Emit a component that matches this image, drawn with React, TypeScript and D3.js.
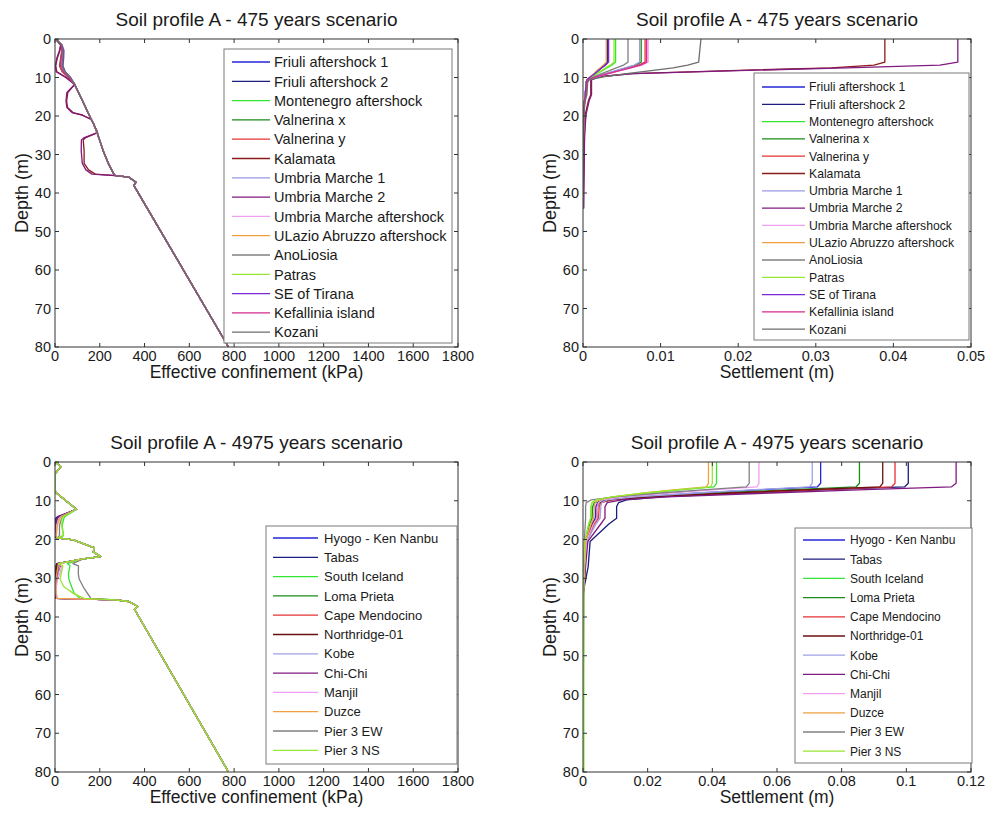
import React from "react";
import * as d3 from "d3";

// ---------- ticks ----------
const DEPTH_TICKS = [0, 10, 20, 30, 40, 50, 60, 70, 80];
const CONF_TICKS = [0, 200, 400, 600, 800, 1000, 1200, 1400, 1600, 1800];
const SETTLE_TICKS_475 = [0, 0.01, 0.02, 0.03, 0.04, 0.05];
const SETTLE_TICKS_4975 = [0, 0.02, 0.04, 0.06, 0.08, 0.1, 0.12];

// ---------- series names / colours ----------
const NAMES_475 = [
  "Friuli aftershock 1", "Friuli aftershock 2", "Montenegro aftershock", "Valnerina x",
  "Valnerina y", "Kalamata", "Umbria Marche 1", "Umbria Marche 2", "Umbria Marche aftershock",
  "ULazio Abruzzo aftershock", "AnoLiosia", "Patras", "SE of Tirana", "Kefallinia island", "Kozani",
];
const COLORS_475 = [
  "#2626d9", "#1c1c80", "#33e633", "#1a8c1a", "#e63333", "#8c1a1a", "#9a9ae6", "#801a80",
  "#f0a0f0", "#f0a040", "#808080", "#99e633", "#7a2ad6", "#d62a8c", "#6e6e6e",
];
const NAMES_4975 = [
  "Hyogo - Ken Nanbu", "Tabas", "South Iceland", "Loma Prieta", "Cape Mendocino", "Northridge-01",
  "Kobe", "Chi-Chi", "Manjil", "Duzce", "Pier 3 EW", "Pier 3 NS",
];
const COLORS_4975 = [
  "#2626d9", "#1c1c80", "#33e633", "#1a8c1a", "#e63333", "#6b1010",
  "#a0a0e6", "#801a80", "#f0a0f0", "#f0a040", "#808080", "#99e633",
];

// ---------- 475 years: effective confinement (kPa) vs depth (m) ----------
const DEPTH_CONF_475 = [0, 1.5, 3, 5, 7, 8.5, 10, 11.8, 13.9, 16.1, 17.8, 19.1, 19.8, 20.9, 22, 24.3, 25.7, 26.2, 29, 32.3, 34, 35.1, 35.5, 35.9, 37.2, 38, 80];
const CONF_475 = [
  [3, 28, 36, 34, 30, 40, 66, 88, 105, 123, 137, 147, 153, 162, 172, 188, 196, 199, 215, 238, 253, 263, 270, 330, 362, 352, 775],
  [3, 27, 34, 32, 28, 38, 64, 88, 105, 123, 137, 147, 153, 162, 172, 188, 196, 199, 215, 238, 253, 263, 270, 330, 362, 352, 775],
  [3, 30, 37, 36, 33, 44, 68, 88, 105, 123, 137, 147, 153, 162, 172, 188, 196, 199, 215, 238, 253, 263, 270, 330, 362, 352, 775],
  [3, 26, 30, 25, 20, 32, 62, 88, 105, 123, 137, 147, 153, 162, 172, 188, 196, 199, 215, 238, 253, 263, 270, 330, 362, 352, 775],
  [3, 27, 31, 27, 22, 33, 62, 88, 105, 123, 137, 147, 153, 162, 172, 188, 196, 199, 215, 238, 253, 263, 270, 330, 362, 352, 775],
  [3, 26, 22, 10, 3, 8, 52, 88, 57, 52, 56, 80, 125, 162, 172, 190, 135, 126, 130, 130, 150, 180, 270, 330, 362, 352, 775],
  [3, 32, 40, 39, 36, 46, 70, 88, 105, 123, 137, 147, 153, 162, 172, 188, 196, 199, 215, 238, 253, 263, 270, 330, 362, 352, 775],
  [3, 25, 20, 8, 2, 5, 48, 88, 53, 49, 53, 76, 121, 162, 172, 190, 128, 118, 117, 122, 138, 165, 270, 330, 362, 352, 775],
  [3, 30, 34, 31, 26, 36, 64, 88, 105, 123, 137, 147, 153, 162, 172, 188, 196, 199, 215, 238, 253, 263, 270, 330, 362, 352, 775],
  [3, 29, 36, 35, 32, 42, 67, 88, 105, 123, 137, 147, 153, 162, 172, 188, 196, 199, 215, 238, 253, 263, 270, 330, 362, 352, 775],
  [3, 29, 35, 33, 30, 40, 66, 88, 105, 123, 137, 147, 153, 162, 172, 188, 196, 199, 215, 238, 253, 263, 270, 330, 362, 352, 775],
  [3, 31, 38, 37, 34, 45, 69, 88, 105, 123, 137, 147, 153, 162, 172, 188, 196, 199, 215, 238, 253, 263, 270, 330, 362, 352, 775],
  [3, 30, 39, 38, 35, 45, 69, 88, 105, 123, 137, 147, 153, 162, 172, 188, 196, 199, 215, 238, 253, 263, 270, 330, 362, 352, 775],
  [3, 27, 32, 28, 24, 35, 63, 88, 105, 123, 137, 147, 153, 162, 172, 188, 196, 199, 215, 238, 253, 263, 270, 330, 362, 352, 775],
  [3, 30, 36, 35, 33, 43, 68, 88, 105, 123, 137, 147, 153, 162, 172, 188, 196, 199, 215, 238, 253, 263, 270, 330, 362, 352, 775],
];

// ---------- 475 years: settlement (m) vs depth (m) ----------
const DEPTH_SETTLE_475 = [0, 6, 6.8, 7.5, 8.2, 9, 9.8, 10.6, 11.3, 14.5, 16, 19.5, 25, 44];
const SETTLE_475 = [
  [0.0032, 0.0032, 0.0028, 0.0024, 0.0020, 0.0015, 0.0010, 0.0005, 0.0004, 0.0003, 0.0002, 0.0001, 0.00005, 0],
  [0.0031, 0.0031, 0.0027, 0.0023, 0.0019, 0.0015, 0.0010, 0.0005, 0.0004, 0.0003, 0.0002, 0.0001, 0.00005, 0],
  [0.0042, 0.0042, 0.0037, 0.0031, 0.0025, 0.0018, 0.0012, 0.0005, 0.0004, 0.0003, 0.0002, 0.0001, 0.00005, 0],
  [0.0075, 0.0075, 0.0068, 0.0056, 0.0044, 0.0030, 0.0017, 0.0006, 0.0004, 0.0003, 0.0002, 0.0001, 0.00005, 0],
  [0.0080, 0.0080, 0.0072, 0.0059, 0.0046, 0.0032, 0.0018, 0.0006, 0.0005, 0.0004, 0.0002, 0.0001, 0.00005, 0],
  [0.0389, 0.0389, 0.0375, 0.0320, 0.0190, 0.0063, 0.0019, 0.0010, 0.0010, 0.0010, 0.0007, 0.0003, 0.0002, 0],
  [0.0073, 0.0073, 0.0066, 0.0054, 0.0042, 0.0029, 0.0016, 0.0005, 0.0004, 0.0003, 0.0002, 0.0001, 0.00005, 0],
  [0.0483, 0.0483, 0.0460, 0.0340, 0.0200, 0.0065, 0.0020, 0.0011, 0.0011, 0.0011, 0.0008, 0.0004, 0.0002, 0.0001],
  [0.0084, 0.0084, 0.0076, 0.0062, 0.0048, 0.0033, 0.0019, 0.0006, 0.0005, 0.0004, 0.0002, 0.0001, 0.00005, 0],
  [0.0030, 0.0030, 0.0026, 0.0022, 0.0018, 0.0014, 0.0009, 0.0005, 0.0004, 0.0003, 0.0002, 0.0001, 0.00005, 0],
  [0.0058, 0.0058, 0.0052, 0.0043, 0.0034, 0.0024, 0.0014, 0.0005, 0.0004, 0.0003, 0.0002, 0.0001, 0.00005, 0],
  [0.0040, 0.0040, 0.0035, 0.0029, 0.0024, 0.0017, 0.0011, 0.0005, 0.0004, 0.0003, 0.0002, 0.0001, 0.00005, 0],
  [0.0033, 0.0033, 0.0029, 0.0024, 0.0020, 0.0015, 0.0010, 0.0005, 0.0004, 0.0003, 0.0002, 0.0001, 0.00005, 0],
  [0.0082, 0.0082, 0.0074, 0.0061, 0.0047, 0.0032, 0.0018, 0.0006, 0.0005, 0.0004, 0.0002, 0.0001, 0.00005, 0],
  [0.0152, 0.0149, 0.0135, 0.0116, 0.0088, 0.0056, 0.0028, 0.0008, 0.0006, 0.0005, 0.0003, 0.0001, 0.00005, 0],
];

// ---------- 4975 years: effective confinement (kPa) vs depth (m) ----------
const DEPTH_CONF_4975 = [0, 0.3, 1.2, 2.9, 4.2, 7.8, 12.2, 14.1, 14.5, 16.4, 19, 19.6, 20.1, 21.9, 22.1, 23.2, 24.4, 25, 26.2, 26.8, 28.8, 30.2, 32.2, 33.9, 35.2, 35.6, 36, 37.3, 38, 80];
const CONF_4975 = [
  [1, 8, 26, 2, 0, 2, 96, 20, 12, 3, 2, 7, 82, 164, 176, 171, 204, 126, 12, 8, 4, 2, 2, 3, 6, 270, 330, 370, 355, 775],
  [1, 8, 26, 2, 0, 2, 96, 12, 3, 1, 1, 6, 82, 164, 176, 171, 204, 126, 8, 4, 2, 1, 1, 2, 5, 270, 330, 370, 355, 775],
  [1, 8, 26, 2, 0, 2, 96, 44, 40, 32, 38, 12, 82, 164, 176, 171, 204, 126, 55, 67, 60, 62, 74, 86, 112, 270, 330, 370, 355, 775],
  [1, 8, 26, 2, 0, 2, 96, 22, 14, 4, 3, 8, 82, 164, 176, 171, 204, 126, 14, 10, 5, 3, 3, 4, 8, 270, 330, 370, 355, 775],
  [1, 8, 26, 2, 0, 2, 96, 25, 18, 6, 4, 8, 82, 164, 176, 171, 204, 126, 18, 25, 12, 6, 4, 4, 7, 270, 330, 370, 355, 775],
  [1, 8, 26, 2, 0, 2, 96, 18, 10, 2, 1, 6, 82, 164, 176, 171, 204, 126, 10, 6, 3, 2, 1, 2, 5, 270, 330, 370, 355, 775],
  [1, 8, 26, 2, 0, 2, 96, 24, 16, 5, 4, 8, 82, 164, 176, 171, 204, 126, 15, 20, 14, 8, 5, 5, 9, 270, 330, 370, 355, 775],
  [1, 8, 26, 2, 0, 2, 96, 16, 8, 2, 1, 6, 82, 164, 176, 171, 204, 126, 12, 16, 10, 5, 3, 3, 6, 270, 330, 370, 355, 775],
  [1, 8, 26, 2, 0, 2, 96, 26, 20, 8, 5, 9, 82, 164, 176, 171, 204, 126, 20, 30, 22, 12, 6, 6, 10, 270, 330, 370, 355, 775],
  [1, 8, 26, 2, 0, 2, 96, 28, 22, 10, 6, 9, 82, 164, 176, 171, 204, 126, 16, 14, 8, 4, 3, 4, 8, 270, 330, 370, 355, 775],
  [1, 8, 26, 2, 0, 2, 96, 35, 30, 20, 20, 10, 82, 164, 176, 171, 204, 126, 80, 105, 104, 108, 126, 145, 160, 270, 330, 370, 355, 775],
  [1, 8, 26, 2, 0, 2, 96, 37, 32, 30, 37, 10, 82, 164, 176, 171, 204, 126, 15, 35, 28, 22, 40, 82, 130, 270, 330, 370, 355, 775],
];

// ---------- 4975 years: settlement (m) vs depth (m) ----------
const DEPTH_SETTLE_4975 = [0, 5.5, 6.4, 7.2, 8, 9, 9.8, 10.5, 11.5, 14.5, 16, 20.5, 27, 34, 80];
const SETTLE_4975 = [
  [0.0735, 0.0735, 0.0725, 0.054, 0.036, 0.017, 0.0070, 0.0045, 0.0040, 0.0038, 0.0028, 0.0010, 0.0005, 0.0001, 0],
  [0.1006, 0.1006, 0.0995, 0.074, 0.050, 0.024, 0.0135, 0.0110, 0.0104, 0.0104, 0.0080, 0.0022, 0.0016, 0, 0],
  [0.0413, 0.0413, 0.0405, 0.030, 0.020, 0.0095, 0.0040, 0.0028, 0.0025, 0.0024, 0.0018, 0.0006, 0.0003, 0.0002, 0.0002],
  [0.0855, 0.0855, 0.0845, 0.063, 0.042, 0.019, 0.0070, 0.0035, 0.0030, 0.0028, 0.0020, 0.0008, 0.0004, 0.0001, 0],
  [0.0965, 0.0965, 0.0955, 0.071, 0.048, 0.022, 0.0090, 0.0055, 0.0050, 0.0048, 0.0035, 0.0012, 0.0006, 0.0001, 0],
  [0.0927, 0.0927, 0.0918, 0.068, 0.046, 0.021, 0.0085, 0.0050, 0.0045, 0.0043, 0.0030, 0.0010, 0.0005, 0.0001, 0],
  [0.0709, 0.0709, 0.0700, 0.052, 0.035, 0.016, 0.0075, 0.0058, 0.0055, 0.0053, 0.0040, 0.0012, 0.0006, 0.0001, 0],
  [0.1154, 0.1154, 0.1140, 0.085, 0.058, 0.026, 0.0120, 0.0075, 0.0068, 0.0068, 0.0055, 0.0015, 0.0008, 0.0002, 0],
  [0.0544, 0.0544, 0.0538, 0.040, 0.027, 0.012, 0.0060, 0.0048, 0.0045, 0.0043, 0.0032, 0.0010, 0.0005, 0.0001, 0],
  [0.0388, 0.0388, 0.0382, 0.028, 0.019, 0.0095, 0.0050, 0.0038, 0.0035, 0.0033, 0.0025, 0.0008, 0.0004, 0.0001, 0],
  [0.0514, 0.0514, 0.0505, 0.037, 0.024, 0.010, 0.0025, 0.0010, 0.0008, 0.0008, 0.0007, 0.0004, 0.0002, 0, 0],
  [0.0400, 0.0400, 0.0395, 0.029, 0.019, 0.0090, 0.0040, 0.0028, 0.0025, 0.0024, 0.0018, 0.0006, 0.0003, 0.0002, 0.0002],
];

const FONT = "'Liberation Sans', Arial, Helvetica, sans-serif";
const AXIS_COLOR = "#333333";
const TEXT_COLOR = "#1a1a1a";

type LegendCfg = {
  left: number; top: number; right: number; bottom: number;
  row0: number; rowStep: number; lineX0: number; lineX1: number; textX: number; fontSize: number;
};

type PanelProps = {
  id: string;
  x0: number; x1: number; y0: number; y1: number;
  xDomain: [number, number];
  xTicks: number[];
  xFmt: (v: number) => string;
  title: string;
  xLabel: string;
  depths: number[];
  values: number[][];
  names: string[];
  colors: string[];
  legend: LegendCfg;
};

function Panel(p: PanelProps) {
  const xs = d3.scaleLinear().domain(p.xDomain).range([p.x0, p.x1]);
  const ys = d3.scaleLinear().domain([0, 80]).range([p.y0, p.y1]);
  const line = d3
    .line<[number, number]>()
    .x((d) => xs(d[0]))
    .y((d) => ys(d[1]));
  const tickLen = 4;
  const cx = (p.x0 + p.x1) / 2;
  const cy = (p.y0 + p.y1) / 2;
  const lg = p.legend;
  return (
    <g>
      <defs>
        <clipPath id={`clip-${p.id}`}>
          <rect x={p.x0} y={p.y0} width={p.x1 - p.x0} height={p.y1 - p.y0} />
        </clipPath>
      </defs>
      <rect x={p.x0} y={p.y0} width={p.x1 - p.x0} height={p.y1 - p.y0} fill="#fff" />
      <g clipPath={`url(#clip-${p.id})`}>
        {p.values.map((vals, i) => {
          const pts: [number, number][] = vals.map((v, j) => [v, p.depths[j]]);
          return (
            <path key={i} d={line(pts) || ""} fill="none" stroke={p.colors[i]} strokeWidth={1.3} strokeLinejoin="round" />
          );
        })}
      </g>
      {/* ticks */}
      {p.xTicks.map((t) => (
        <g key={`xt${t}`}>
          <line x1={xs(t)} x2={xs(t)} y1={p.y1} y2={p.y1 - tickLen} stroke={AXIS_COLOR} />
          <line x1={xs(t)} x2={xs(t)} y1={p.y0} y2={p.y0 + tickLen} stroke={AXIS_COLOR} />
          <text x={xs(t)} y={p.y1 + 13.5} textAnchor="middle" fontSize={14.5} fill={TEXT_COLOR} fontFamily={FONT}>
            {p.xFmt(t)}
          </text>
        </g>
      ))}
      {DEPTH_TICKS.map((t) => (
        <g key={`yt${t}`}>
          <line x1={p.x0} x2={p.x0 + tickLen} y1={ys(t)} y2={ys(t)} stroke={AXIS_COLOR} />
          <line x1={p.x1} x2={p.x1 - tickLen} y1={ys(t)} y2={ys(t)} stroke={AXIS_COLOR} />
          <text x={p.x0 - 4} y={ys(t)} dy="0.36em" textAnchor="end" fontSize={14.5} fill={TEXT_COLOR} fontFamily={FONT}>
            {t}
          </text>
        </g>
      ))}
      <rect x={p.x0} y={p.y0} width={p.x1 - p.x0} height={p.y1 - p.y0} fill="none" stroke={AXIS_COLOR} strokeWidth={1} />
      {/* legend */}
      <rect x={lg.left} y={lg.top} width={lg.right - lg.left} height={lg.bottom - lg.top} fill="#fff" stroke="#7a7a7a" strokeWidth={1} />
      {p.names.map((n, i) => {
        const y = lg.row0 + i * lg.rowStep;
        return (
          <g key={`lg${i}`}>
            <line x1={lg.lineX0} x2={lg.lineX1} y1={y} y2={y} stroke={p.colors[i]} strokeWidth={1.3} />
            <text x={lg.textX} y={y} dy="0.36em" fontSize={lg.fontSize} fill={TEXT_COLOR} fontFamily={FONT}>
              {n}
            </text>
          </g>
        );
      })}
      {/* labels */}
      <text x={cx} y={p.y0 - 13} textAnchor="middle" fontSize={19} fill={TEXT_COLOR} fontFamily={FONT}>
        {p.title}
      </text>
      <text x={cx} y={p.y1 + 31} textAnchor="middle" fontSize={17.5} fill={TEXT_COLOR} fontFamily={FONT}>
        {p.xLabel}
      </text>
      <text
        transform={`translate(${p.x0 - 27},${cy}) rotate(-90)`}
        textAnchor="middle"
        fontSize={18}
        fill={TEXT_COLOR}
        fontFamily={FONT}
      >
        Depth (m)
      </text>
    </g>
  );
}

const fmtConf = (v: number) => String(v);
const fmtSettle = (v: number) => (v === 0 ? "0" : String(+v.toFixed(2)));

export default function App() {
  return (
    <svg
      width={1001}
      height={818}
      viewBox="0 0 1001 818"
      style={{ position: "absolute", left: 0, top: 0, background: "#fff" }}
    >
      <rect x={0} y={0} width={1001} height={818} fill="#fff" />
      <Panel
        id="tl"
        x0={55} x1={458} y0={39} y1={347}
        xDomain={[0, 1800]} xTicks={CONF_TICKS} xFmt={fmtConf}
        title="Soil profile A - 475 years scenario"
        xLabel="Effective confinement (kPa)"
        depths={DEPTH_CONF_475} values={CONF_475} names={NAMES_475} colors={COLORS_475}
        legend={{ left: 224, top: 49, right: 452, bottom: 343, row0: 62, rowStep: 19.3, lineX0: 232, lineX1: 270, textX: 274, fontSize: 14.5 }}
      />
      <Panel
        id="tr"
        x0={583} x1={971} y0={39} y1={347}
        xDomain={[0, 0.05]} xTicks={SETTLE_TICKS_475} xFmt={fmtSettle}
        title="Soil profile A - 475 years scenario"
        xLabel="Settlement (m)"
        depths={DEPTH_SETTLE_475} values={SETTLE_475} names={NAMES_475} colors={COLORS_475}
        legend={{ left: 754, top: 73, right: 969, bottom: 340, row0: 87, rowStep: 17.3, lineX0: 762, lineX1: 805, textX: 809, fontSize: 12.2 }}
      />
      <Panel
        id="bl"
        x0={55} x1={458} y0={462} y1={772}
        xDomain={[0, 1800]} xTicks={CONF_TICKS} xFmt={fmtConf}
        title="Soil profile A - 4975 years scenario"
        xLabel="Effective confinement (kPa)"
        depths={DEPTH_CONF_4975} values={CONF_4975} names={NAMES_4975} colors={COLORS_4975}
        legend={{ left: 266, top: 526, right: 457, bottom: 764, row0: 538, rowStep: 19.3, lineX0: 273, lineX1: 318, textX: 324, fontSize: 13 }}
      />
      <Panel
        id="br"
        x0={583} x1={971} y0={462} y1={772}
        xDomain={[0, 0.12]} xTicks={SETTLE_TICKS_4975} xFmt={fmtSettle}
        title="Soil profile A - 4975 years scenario"
        xLabel="Settlement (m)"
        depths={DEPTH_SETTLE_4975} values={SETTLE_4975} names={NAMES_4975} colors={COLORS_4975}
        legend={{ left: 795, top: 528, right: 972, bottom: 763, row0: 540, rowStep: 19.2, lineX0: 803, lineX1: 845, textX: 850, fontSize: 12 }}
      />
    </svg>
  );
}
